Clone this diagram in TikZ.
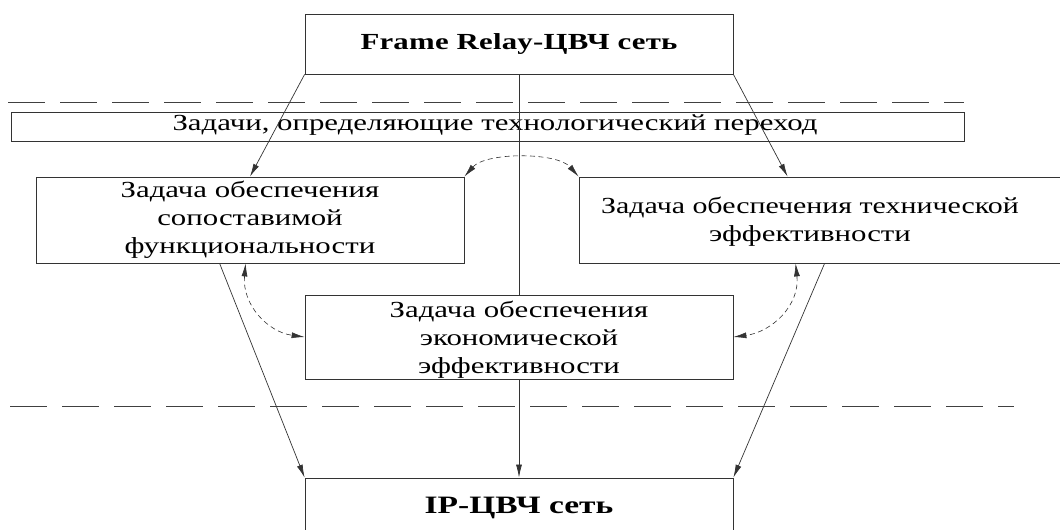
\documentclass[tikz,border=0pt]{standalone}
\usepackage{fontspec}
\setmainfont{Liberation Serif}[FakeStretch=1.34]
\usetikzlibrary{arrows.meta}
\begin{document}
\begin{tikzpicture}[x=1pt,y=-1pt,
  box/.style={draw=black!80, line width=0.8pt, fill=white, inner sep=0pt, align=center,
              font=\fontsize{23}{28}\selectfont},
  conn/.style={draw=black!80, line width=0.7pt},
  arr/.style={-{Latex[length=13pt,width=6pt]}},
  darr/.style={draw=black!80, line width=0.6pt, dash pattern=on 5pt off 3.5pt,
               {Latex[length=13pt,width=6pt]}-{Latex[length=13pt,width=6pt]}},
  sep/.style={draw=black!75, line width=0.8pt, dash pattern=on 37pt off 15pt}]
\useasboundingbox (0,0) rectangle (1060,530);
\clip (0,0) rectangle (1060,530);

% separators
\coordinate (s1a) at (8,102);
\coordinate (s1b) at (964,102);
\coordinate (s2a) at (10,406);
\coordinate (s2b) at (1014,406);
\draw[sep] (s1a) -- (s1b);
\draw[sep] (s2a) -- (s2b);

% boxes
\node[box, minimum width=428pt, minimum height=60pt] (top) at (519,44)
  {\bfseries\addfontfeature{LetterSpace=1}Frame Relay-ЦВЧ сеть};
\node[draw=black!80, line width=0.8pt, inner sep=0pt, minimum width=953pt, minimum height=29pt] (bar) at (487.5,126.5) {};
\node[font=\fontsize{23}{28}\selectfont, inner sep=0pt] (bartext) at (495,125) {Задачи, определяющие технологический переход};
\node[box, minimum width=428pt, minimum height=86pt] (left) at (250,220)
  {Задача обеспечения\\сопоставимой\\функциональности};
\node[box, minimum width=486pt, minimum height=86pt] (right) at (822,220) {};
\node[font=\fontsize{23}{28}\selectfont, inner sep=0pt, align=center] (righttext) at (810,222)
  {\addfontfeature{FakeStretch=1.3}Задача обеспечения технической\\эффективности};
\node[box, minimum width=428pt, minimum height=84pt] (mid) at (519,337) {};
\node[font=\fontsize{23}{28}\selectfont, inner sep=0pt, align=center] (midtext) at (519,340)
  {Задача обеспечения\\экономической\\эффективности};
\node[box, minimum width=428pt, minimum height=60pt] (bot) at (519,508)
  {\fontsize{25}{28}\selectfont\bfseries IP-ЦВЧ сеть};

% connectors
\draw[conn] (top.south) -- (mid.north);
\draw[conn, arr] (mid.south) -- (bot.north);
\draw[conn, arr] (top.south west) -- (left.north);
\draw[conn, arr] (top.south east) -- ([xshift=209pt]right.north west);
\draw[conn, arr] ([xshift=184pt]left.south west) -- (bot.north west);
\draw[conn, arr] ([xshift=246pt]right.south west) -- (bot.north east);

% dashed relations
\draw[darr] (left.north east) .. controls (486,152) and (557,152) .. (right.north west);
\draw[darr] ([xshift=210pt]left.south west) .. controls (242,305) and (268,332) .. (mid.west);
\draw[darr] ([xshift=217pt]right.south west) .. controls (800,305) and (772,332) .. (mid.east);
\end{tikzpicture}
\end{document}
